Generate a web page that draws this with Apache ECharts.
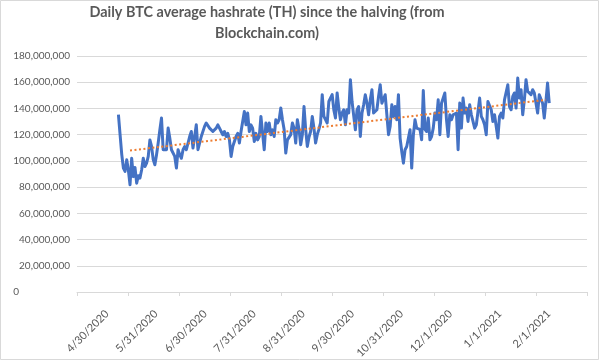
<!DOCTYPE html>
<html><head><meta charset="utf-8">
<script src="https://cdn.jsdelivr.net/npm/echarts@6/dist/echarts.min.js"></script>
<style>html,body{margin:0;padding:0;background:#fff}#c{width:600px;height:361px}</style>
</head><body><div id="c"></div>
<script>
const chartTitle = 'Daily BTC average hashrate (TH) since the halving (from\nBlockchain.com)';
const xTickLabels = ['4/30/2020','5/31/2020','6/30/2020','7/31/2020','8/31/2020','9/30/2020','10/31/2020','12/1/2020','1/1/2021','2/1/2021',''];
const axisStartDate = '2020-04-30';
const tickStepDays = 30.78;
const seriesStartDate = '2020-05-25';
// daily average hashrate, millions of TH
const hashrateM = [
135.2,120,105,94.5,92,100.8,93,81.8,102,88,95,83,88.6,86.9,93,102,95.7,98.3,103.4,116,
111,101,97,104.7,113.6,123.7,132.7,108.5,109.8,108.5,125,117.4,108.5,110,103.4,94.5,108.5,104.7,102,108.5,
111,108.5,110,118.6,122.4,109.8,118.6,127.5,108.5,110,118.6,119.9,126.3,128.9,127.5,125,126.3,122.4,121.2,125,
127.5,125,122.4,119.9,122.4,118.6,121,116.1,103.4,111,114.8,118.6,121,113.6,122.4,121,137.7,127.5,136.5,122.4,
127.5,125,114.8,121,116,118.6,133.9,135.2,
108.5,128.9,122.4,128.9,120,123.7,118.6,131.4,128.9,131.4,
140.3,131.4,124,106,116,117.4,120,128.9,125,113.6,
131.4,124,112.3,119.9,141.5,124,111,118,122.4,133.9,
125,113.6,120,124,128.9,150.5,133.9,135.2,128.9,145.3,
144,150.5,138.9,132.7,151.8,140.3,131.4,136.5,139,127.5,
139,136.5,161.9,145.3,145.3,123.7,138.9,141.5,118.6,136.5,
142.8,150.5,144,135.2,146.6,154.3,136.5,135.2,139,149.2,
158.1,144,142.8,150.5,151.8,120,126.3,142.8,133.9,141.5,
131.4,150.5,117.4,107.2,98.3,
108.5,111,112.3,123.7,94.5,119.9,131.4,125,126.3,124,
116.1,153.7,124,122.4,132.7,116.1,118.6,125,136.5,131.4,
146.6,120,144,143,151.8,131.4,118.6,135.2,131.4,135.2,
133.9,136.5,108.5,144.1,125,147.9,136.5,140.3,130.1,142.8,
135.2,130.1,125,127.5,128.9,147.9,133.9,131.4,127.5,120,
145.3,145.3,139,130.1,135.2,133.9,117.4,133.9,136.5,132.7,
146.6,145.3,158.1,141.5,139,149.2,151.8,140.3,163.2,147.9,
154.3,135.2,146.6,161.9,153,151.8,150.5,154.3,151.8,150.5,
136.5,150.5,151.8,144,132.7,145.3,159.4,144.1
];
const trendDates = ['2020-06-01','2021-02-07'];
const trendM = [107.9,146.6];
const yMax = 180000000, yStep = 20000000;

const DAY = 86400000;
const dayOf = d => (Date.parse(d) - Date.parse(axisStartDate)) / DAY;
const s0 = dayOf(seriesStartDate);
const lineData = hashrateM.map((v, i) => [s0 + i, v * 1e6]);
const trendData = trendDates.map((d, i) => [dayOf(d), trendM[i] * 1e6]);
const xMax = tickStepDays * 10;
const grey = '#595959';
const font = 'Lato, "Liberation Sans", sans-serif';

const chart = echarts.init(document.getElementById('c'), null, {renderer: 'canvas'});
chart.setOption({
  animation: false,
  backgroundColor: '#fff',
  title: {
    text: chartTitle, left: 262, textAlign: 'center', top: -3,
    textStyle: {fontFamily: font, fontSize: 14.4, fontWeight: 'bold', color: grey, lineHeight: 21}
  },
  graphic: [{type: 'rect', shape: {x: 0.5, y: 0.5, width: 598, height: 359}, style: {fill: 'none', stroke: '#d9d9d9', lineWidth: 1}, silent: true}],
  grid: [
    {left: 77, top: 56, width: 510, height: 236},
    {left: 107, top: 56, width: 510, height: 236}
  ],
  xAxis: [
    {type: 'value', gridIndex: 0, min: 0, max: xMax, interval: tickStepDays,
     axisLine: {show: true, lineStyle: {color: '#d9d9d9'}},
     axisTick: {show: true, length: 4, lineStyle: {color: '#d9d9d9'}},
     axisLabel: {show: false}, splitLine: {show: false}},
    {type: 'value', gridIndex: 1, min: 0, max: xMax, interval: tickStepDays,
     axisLine: {show: false}, axisTick: {show: false}, splitLine: {show: false},
     axisLabel: {show: true, rotate: 45, margin: 25, color: grey, fontFamily: font, fontSize: 11,
       showMaxLabel: true, showMinLabel: true,
       formatter: v => xTickLabels[Math.round(v / tickStepDays)] || ''}}
  ],
  yAxis: [
    {type: 'value', gridIndex: 0, min: 0, max: yMax, interval: yStep,
     axisLine: {show: false}, axisTick: {show: false},
     splitLine: {lineStyle: {color: '#d9d9d9'}},
     axisLabel: {color: grey, fontFamily: font, fontSize: 10, margin: 7,
       formatter: v => v === 0 ? '{z|0}' : v.toLocaleString('en-US'),
       rich: {z: {color: grey, fontFamily: font, fontSize: 10, padding: [0, 51, 0, 0]}}}},
    {type: 'value', gridIndex: 1, min: 0, max: yMax, show: false}
  ],
  series: [
    {type: 'line', xAxisIndex: 0, yAxisIndex: 0, data: lineData, showSymbol: false, symbol: 'none',
     lineStyle: {color: '#4472C4', width: 3, join: 'round'}, z: 2},
    {type: 'line', xAxisIndex: 0, yAxisIndex: 0, data: trendData, showSymbol: false, symbol: 'none',
     lineStyle: {color: '#ED7D31', width: 2, type: [2, 2.5]}, z: 3}
  ]
});
</script></body></html>
